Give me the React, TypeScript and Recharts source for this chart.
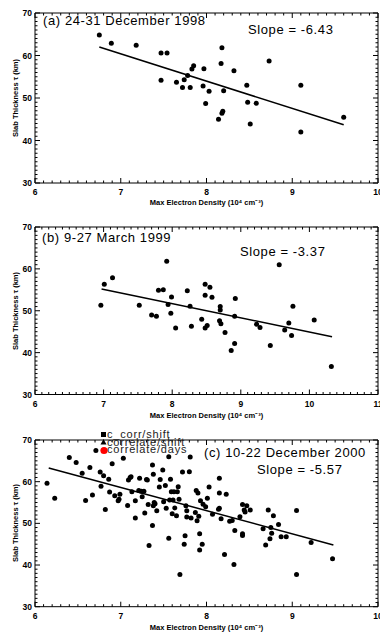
import React from 'react';
import { ScatterChart, Scatter, XAxis, YAxis, ReferenceLine } from 'recharts';

type Pair = [number, number];

const FONT = '"Liberation Sans", Arial, sans-serif';

// (a) 24-31 December 1998: [max electron density, slab thickness]
const dec1998: Pair[] = [
  [6.75, 64.8], [6.89, 62.9], [7.18, 62.4], [7.47, 60.6], [7.54, 60.6], [7.47, 54.2],
  [7.65, 53.7], [7.74, 54.3], [7.72, 52.5], [7.78, 55.3], [7.81, 52.5], [7.83, 56.8],
  [7.85, 57.6], [7.96, 52.8], [7.97, 56.9], [7.99, 48.7], [8.03, 51.6], [8.14, 45.0],
  [8.17, 58.1], [8.18, 61.8], [8.18, 46.4], [8.19, 46.9], [8.2, 51.7], [8.32, 56.4],
  [8.47, 53.0], [8.48, 49.0], [8.51, 43.9], [8.58, 48.75], [8.73, 58.7], [9.1, 53.0],
  [9.1, 42.0], [9.6, 45.5],
];
const fit1998: Pair[] = [[6.75, 62.0], [9.6, 43.7]];

// (b) 9-27 March 1999
const mar1999: Pair[] = [
  [6.96, 51.3], [7.01, 56.3], [7.13, 57.9], [7.52, 51.3], [7.7, 49.0], [7.77, 48.7],
  [7.8, 54.9], [7.87, 55.0], [7.92, 61.8], [7.94, 51.5], [7.99, 53.3], [7.98, 49.4],
  [8.05, 45.9], [8.22, 54.8], [8.26, 51.1], [8.28, 46.3], [8.43, 48.0], [8.48, 56.3],
  [8.48, 53.7], [8.48, 45.9], [8.51, 46.5], [8.55, 55.6], [8.58, 53.2], [8.7, 51.0],
  [8.7, 50.2], [8.69, 47.6], [8.71, 46.9], [8.77, 44.8], [8.86, 40.5], [8.91, 42.2],
  [8.91, 48.7], [8.92, 52.9], [9.23, 46.8], [9.28, 46.0], [9.43, 41.7], [9.56, 61.0],
  [9.64, 45.4], [9.7, 47.1], [9.74, 44.1], [9.76, 51.1], [10.07, 47.8], [10.32, 36.7],
];
const fit1999: Pair[] = [[6.97, 55.2], [10.33, 43.8]];

// (c) 10-22 December 2000
const dec2000: Pair[] = [
  [6.14, 59.6], [6.23, 56.0], [6.4, 65.8], [6.48, 64.6], [6.55, 62.0], [6.59, 55.5],
  [6.64, 63.4], [6.67, 56.8], [6.71, 67.5], [6.76, 62.3], [6.77, 58.9], [6.8, 61.4],
  [6.82, 53.3], [6.86, 60.6], [6.87, 57.5], [6.9, 64.3], [6.93, 56.6], [6.97, 55.4],
  [6.98, 55.8], [6.99, 57.0], [7.03, 65.6], [7.08, 54.3], [7.09, 60.4], [7.11, 61.0],
  [7.12, 61.2], [7.13, 57.6], [7.17, 51.3], [7.17, 55.4], [7.21, 57.9], [7.22, 60.8],
  [7.24, 57.7], [7.25, 56.4], [7.27, 57.7], [7.28, 52.5], [7.3, 60.5], [7.31, 60.4],
  [7.32, 54.5], [7.33, 44.7], [7.37, 64.0], [7.37, 49.5], [7.38, 54.2], [7.38, 61.8],
  [7.39, 55.0], [7.4, 54.7], [7.42, 53.0], [7.45, 58.7], [7.46, 60.5], [7.49, 62.8],
  [7.5, 55.2], [7.52, 59.1], [7.53, 53.6], [7.56, 66.0], [7.56, 46.4], [7.57, 55.6],
  [7.58, 60.6], [7.59, 57.6], [7.6, 52.3], [7.61, 55.6], [7.62, 57.6], [7.63, 53.7],
  [7.65, 51.8], [7.66, 57.6], [7.67, 58.8], [7.68, 55.8], [7.69, 37.7], [7.72, 62.3],
  [7.74, 45.0], [7.75, 47.0], [7.76, 54.2], [7.77, 53.0], [7.77, 51.5], [7.8, 62.4],
  [7.81, 65.9], [7.82, 51.3], [7.87, 52.6], [7.88, 57.9], [7.89, 50.6], [7.9, 57.3],
  [7.91, 51.7], [7.92, 47.5], [7.92, 43.6], [7.93, 55.4], [7.95, 45.0], [7.96, 54.6],
  [7.99, 54.0], [8.01, 56.0], [8.03, 58.7], [8.07, 52.2], [8.14, 53.4], [8.15, 53.6],
  [8.15, 60.8], [8.15, 57.3], [8.17, 51.1], [8.21, 42.5], [8.23, 57.0], [8.27, 50.5],
  [8.3, 50.7], [8.32, 40.1], [8.33, 48.3], [8.39, 51.6], [8.42, 54.5], [8.42, 47.5],
  [8.42, 47.1], [8.44, 53.2], [8.45, 52.7], [8.47, 54.2], [8.51, 53.2], [8.66, 48.7],
  [8.69, 44.8], [8.72, 53.2], [8.74, 46.3], [8.75, 49.0], [8.76, 47.6], [8.78, 51.8],
  [8.84, 49.7], [8.87, 46.8], [8.93, 46.8], [9.05, 53.1], [9.05, 37.7], [9.22, 45.4],
  [9.47, 41.5],
];
const fit2000: Pair[] = [[6.16, 63.3], [9.48, 44.8]];

const yMajor = [30, 40, 50, 60, 70];
const xMajorA = [6, 7, 8, 9, 10];
const xMajorB = [6, 7, 8, 9, 10, 11];

const legendItems = [
  { label: 'c_corr/shift', marker: 'square', color: '#000000' },
  { label: 'correlate/shift', marker: 'triangle', color: '#000000' },
  { label: 'correlate/days', marker: 'circle', color: '#ff0000' },
];

const xTitle = 'Max Electron Density (10\u2074 cm\u207B\u00B3)';
const yTitle = 'Slab Thickness \u03C4 (km)';

// minor ticks every 1/per
function steps(lo: number, hi: number, per: number) {
  const n = Math.round((hi - lo) * per);
  return Array.from({ length: n + 1 }, (_, i) => Math.round(lo * per + i) / per);
}

const tickText = { fontFamily: FONT, fontSize: 8.5, fontWeight: 700, fill: '#000' };

function makeTick(side: string, majors: number[]) {
  return (props: any) => {
    const { x, y, payload } = props;
    const v = payload.value;
    const major = majors.some((m) => Math.abs(m - v) < 1e-6);
    const len = major ? 5 : 2.5;
    let x2 = x;
    let y2 = y;
    if (side === 'bottom') y2 = y - len;
    if (side === 'top') y2 = y + len;
    if (side === 'left') x2 = x + len;
    if (side === 'right') x2 = x - len;
    return (
      <g>
        <line x1={x} y1={y} x2={x2} y2={y2} stroke="#000" strokeWidth={1} />
        {major && side === 'bottom' && (
          <text x={x} y={y + 12} textAnchor="middle" {...tickText}>{v}</text>
        )}
        {major && side === 'left' && (
          <text x={x - 3} y={y + 3} textAnchor="end" {...tickText}>{v}</text>
        )}
      </g>
    );
  };
}

const dot = (p: any) => <circle cx={p.cx} cy={p.cy} r={2.5} fill="#000" />;

function Panel({ top, height, xAxisH, data, fit, xMajor }: {
  top: number; height: number; xAxisH: number; data: Pair[]; fit: Pair[]; xMajor: number[];
}) {
  const xDomain = [xMajor[0], xMajor[xMajor.length - 1]];
  const xTicks = steps(xDomain[0], xDomain[1], 10);
  const yTicks = steps(30, 70, 1);
  const axisLine = { stroke: '#000', strokeWidth: 1 };
  return (
    <div style={{ position: 'absolute', left: 0, top, width: 380, height }}>
      <ScatterChart width={380} height={height} margin={{ top: 12, right: 0, bottom: 0, left: 0 }}>
        <XAxis xAxisId="b" type="number" dataKey="x" domain={xDomain} ticks={xTicks} interval={0}
          tickSize={0} tickMargin={0} tickLine={false} tick={makeTick('bottom', xMajor)}
          height={xAxisH} axisLine={axisLine} allowDataOverflow />
        <XAxis xAxisId="t" orientation="top" type="number" dataKey="x" domain={xDomain} ticks={xTicks}
          interval={0} tickSize={0} tickMargin={0} tickLine={false} tick={makeTick('top', xMajor)}
          height={1} axisLine={axisLine} allowDataOverflow />
        <YAxis yAxisId="l" type="number" dataKey="y" domain={[30, 70]} ticks={yTicks} interval={0}
          tickSize={0} tickMargin={0} tickLine={false} tick={makeTick('left', yMajor)}
          width={35} axisLine={axisLine} allowDataOverflow />
        <YAxis yAxisId="r" orientation="right" type="number" dataKey="y" domain={[30, 70]} ticks={yTicks}
          interval={0} tickSize={0} tickMargin={0} tickLine={false} tick={makeTick('right', yMajor)}
          width={2} axisLine={axisLine} allowDataOverflow />
        <ReferenceLine xAxisId="b" yAxisId="l" segment={fit.map(([x, y]) => ({ x, y }))}
          stroke="#000" strokeWidth={1.5} />
        <Scatter xAxisId="b" yAxisId="l" data={data.map(([x, y]) => ({ x, y }))}
          isAnimationActive={false} shape={dot} />
      </ScatterChart>
    </div>
  );
}

const titleStyle = { fontFamily: FONT, fontSize: 13, letterSpacing: 0.6, fill: '#000' };
const axisTitleStyle = { fontFamily: FONT, fontSize: 7.5, fontWeight: 700, fill: '#000' };

export default function App() {
  return (
    <div style={{ position: 'absolute', left: 0, top: 0, width: 380, height: 632, background: '#fff', overflow: 'hidden' }}>
      <Panel top={0} height={210} xAxisH={27} data={dec1998} fit={fit1998} xMajor={xMajorA} />
      <Panel top={214} height={210} xAxisH={29.5} data={mar1999} fit={fit1999} xMajor={xMajorB} />
      <Panel top={427} height={205} xAxisH={25.3} data={dec2000} fit={fit2000} xMajor={xMajorA} />
      <svg width={380} height={632} style={{ position: 'absolute', left: 0, top: 0, pointerEvents: 'none' }}>
        <text x={43} y={24.6} {...titleStyle}>(a) 24-31 December 1998</text>
        <text x={248} y={33.6} {...titleStyle}>Slope = -6.43</text>
        <text x={42} y={242.3} {...titleStyle}>(b) 9-27 March 1999</text>
        <text x={240} y={256.3} {...titleStyle}>Slope = -3.37</text>
        <text x={204} y={457} {...titleStyle}>(c) 10-22 December 2000</text>
        <text x={257} y={473.6} {...titleStyle}>Slope = -5.57</text>

        <text x={206.5} y={204.5} textAnchor="middle" {...axisTitleStyle}>{xTitle}</text>
        <text x={206.5} y={417.5} textAnchor="middle" {...axisTitleStyle}>{xTitle}</text>
        <text x={206.5} y={630} textAnchor="middle" {...axisTitleStyle}>{xTitle}</text>

        <text transform="translate(17.5,98) rotate(-90)" textAnchor="middle" {...axisTitleStyle}>{yTitle}</text>
        <text transform="translate(17.5,311) rotate(-90)" textAnchor="middle" {...axisTitleStyle}>{yTitle}</text>
        <text transform="translate(17.5,523) rotate(-90)" textAnchor="middle" {...axisTitleStyle}>{yTitle}</text>

        {legendItems.map((it, i) => {
          const cy = 434.5 + i * 7.5;
          return (
            <g key={it.label}>
              {it.marker === 'square' && <rect x={101} y={cy - 2.5} width={5} height={5} fill={it.color} />}
              {it.marker === 'triangle' && (
                <polygon points={`103.5,${cy - 3} 106.5,${cy + 2.5} 100.5,${cy + 2.5}`} fill={it.color} />
              )}
              {it.marker === 'circle' && <circle cx={104} cy={cy + 1} r={3.6} fill={it.color} />}
              <text x={107} y={cy + 3.8} fontFamily={FONT} fontSize={11} letterSpacing={0.8} fill="#222">{it.label}</text>
            </g>
          );
        })}
      </svg>
    </div>
  );
}
